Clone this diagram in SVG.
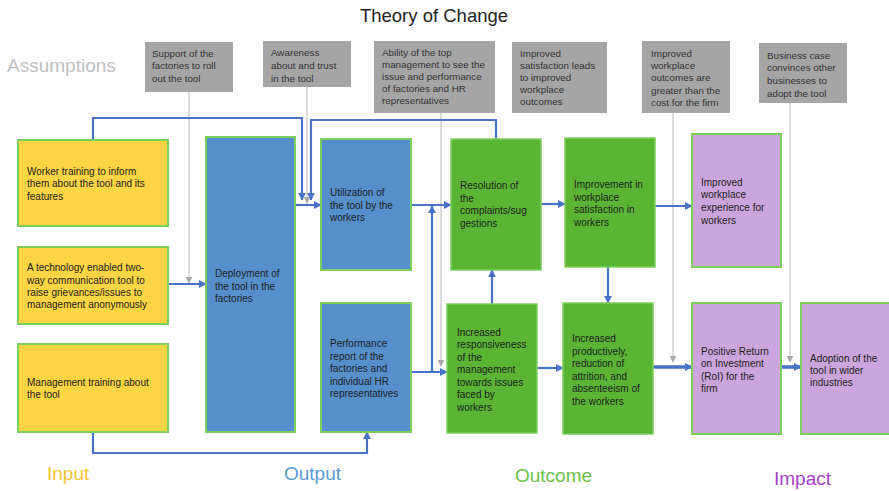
<svg xmlns="http://www.w3.org/2000/svg" width="889" height="491" viewBox="0 0 889 491">
<style>
text{font-family:"Liberation Sans",Arial,sans-serif}
.n text{font-size:10px;fill:#1e1e1e}
.a rect{fill:#a5a5a5}
.a text{font-size:9.8px;fill:#333}
.y{fill:#fcd444;stroke:#7dcf5c;stroke-width:2}
.b{fill:#5690cc;stroke:#7dcf5c;stroke-width:2}
.g{fill:#5ab535;stroke:#7dcf5c;stroke-width:1.5}
.p{fill:#caa6dd;stroke:#7dcf5c;stroke-width:2}
.c{fill:none;stroke:#4a72c8;stroke-width:2.2}
.ct{fill:none;stroke:#4a72c8;stroke-width:3.6}
.gl{fill:none;stroke:#cfcfcf;stroke-width:1.5}
.lab{font-size:19px}
</style>
<defs>
<marker id="ab" viewBox="0 0 10 10" refX="9" refY="5" markerWidth="8" markerHeight="8" markerUnits="userSpaceOnUse" orient="auto"><path d="M0,0 L10,5 L0,10 z" fill="#4a72c8"/></marker>
<marker id="ag" viewBox="0 0 10 10" refX="9" refY="5" markerWidth="7" markerHeight="7" markerUnits="userSpaceOnUse" orient="auto"><path d="M0,0 L10,5 L0,10 z" fill="#a8a8a8"/></marker>
</defs>
<rect width="889" height="491" fill="#fff"/>
<text x="434" y="22" text-anchor="middle" font-size="18.5" fill="#222">Theory of Change</text>
<text x="7" y="72" class="lab" fill="#c0c0c0">Assumptions</text>
<text x="47" y="480" class="lab" fill="#f7c431">Input</text>
<text x="284" y="480" class="lab" fill="#5b9bd5">Output</text>
<text x="515" y="482" class="lab" fill="#6cc04a">Outcome</text>
<text x="774" y="485" class="lab" fill="#a23fc6">Impact</text>

<g id="connectors">
<path class="gl" d="M189,92 V283" marker-end="url(#ag)"/>
<path class="gl" d="M307,87 V203" marker-end="url(#ag)"/>
<path class="gl" d="M441,113 V366" marker-end="url(#ag)"/>
<path class="gl" d="M673,113 V362" marker-end="url(#ag)"/>
<path class="gl" d="M790,103 V362" marker-end="url(#ag)"/>
<path class="c" d="M93,140 V118 H302 V200" marker-end="url(#ab)"/>
<path class="c" d="M496,139 V120 H311 V200" marker-end="url(#ab)"/>
<path class="c" d="M295,205 H321" marker-end="url(#ab)"/>
<path class="c" d="M168,284 H206" marker-end="url(#ab)"/>
<path class="c" d="M411,205 H451" marker-end="url(#ab)"/>
<path class="c" d="M432,372 V206" marker-end="url(#ab)"/>
<path class="c" d="M411,372 H447" marker-end="url(#ab)"/>
<path class="c" d="M492,304 V270" marker-end="url(#ab)"/>
<path class="c" d="M541,204 H565" marker-end="url(#ab)"/>
<path class="c" d="M608,267 V303" marker-end="url(#ab)"/>
<path class="c" d="M537,368 H563" marker-end="url(#ab)"/>
<path class="c" d="M655,206 H692" marker-end="url(#ab)"/>
<path class="ct" d="M653,367 H692" marker-end="url(#ab)"/>
<path class="ct" d="M781,367 H801" marker-end="url(#ab)"/>
<path class="c" d="M93,432 V453 H367 V432" marker-end="url(#ab)"/>
</g>

<g id="a1" class="a"><rect x="145" y="42" width="88" height="50"/>
<text x="152"><tspan x="152" y="57">Support of the</tspan><tspan x="152" y="69">factories to roll</tspan><tspan x="152" y="82">out the tool</tspan></text></g>
<g id="a2" class="a"><rect x="263" y="41" width="88" height="46"/>
<text><tspan x="271" y="56">Awareness</tspan><tspan x="271" y="69">about  and trust</tspan><tspan x="271" y="82">in the tool</tspan></text></g>
<g id="a3" class="a"><rect x="374" y="41" width="121" height="72"/>
<text><tspan x="382" y="56">Ability of the top</tspan><tspan x="382" y="68">management to see the</tspan><tspan x="382" y="80">issue and performance</tspan><tspan x="382" y="92">of factories and HR</tspan><tspan x="382" y="104">representatives</tspan></text></g>
<g id="a4" class="a"><rect x="512" y="42" width="95" height="71"/>
<text><tspan x="520" y="57">Improved</tspan><tspan x="520" y="69">satisfaction leads</tspan><tspan x="520" y="81">to improved</tspan><tspan x="520" y="93">workplace</tspan><tspan x="520" y="105">outcomes</tspan></text></g>
<g id="a5" class="a"><rect x="642" y="41" width="88" height="72"/>
<text><tspan x="651" y="57">Improved</tspan><tspan x="651" y="69">workplace</tspan><tspan x="651" y="81">outcomes are</tspan><tspan x="651" y="94">greater than the</tspan><tspan x="651" y="106">cost for the firm</tspan></text></g>
<g id="a6" class="a"><rect x="759" y="43" width="88" height="60"/>
<text><tspan x="767" y="59">Business case</tspan><tspan x="767" y="71">convinces other</tspan><tspan x="767" y="84">businesses to</tspan><tspan x="767" y="97">adopt the tool</tspan></text></g>

<g id="in1" class="n"><rect class="y" x="18" y="140" width="150" height="86"/>
<text><tspan x="27" y="175">Worker training to inform</tspan><tspan x="27" y="187">them about the tool and its</tspan><tspan x="27" y="200">features</tspan></text></g>
<g id="in2" class="n"><rect class="y" x="18" y="247" width="150" height="77"/>
<text><tspan x="27" y="271">A technology enabled two-</tspan><tspan x="27" y="284">way communication tool to</tspan><tspan x="27" y="296">raise grievances/issues to</tspan><tspan x="27" y="308">management anonymously</tspan></text></g>
<g id="in3" class="n"><rect class="y" x="18" y="344" width="150" height="88"/>
<text><tspan x="27" y="386">Management training about</tspan><tspan x="27" y="398">the tool</tspan></text></g>

<g id="out1" class="n"><rect class="b" x="206" y="137" width="89" height="295"/>
<text><tspan x="215" y="277">Deployment of</tspan><tspan x="215" y="290">the tool in the</tspan><tspan x="215" y="302">factories</tspan></text></g>
<g id="out2" class="n"><rect class="b" x="321" y="139" width="90" height="131"/>
<text><tspan x="330" y="196">Utilization of</tspan><tspan x="330" y="209">the tool by the</tspan><tspan x="330" y="221">workers</tspan></text></g>
<g id="out3" class="n"><rect class="b" x="321" y="303" width="90" height="129"/>
<text><tspan x="330" y="347">Performance</tspan><tspan x="330" y="360">report of the</tspan><tspan x="330" y="372">factories and</tspan><tspan x="330" y="385">individual HR</tspan><tspan x="330" y="397">representatives</tspan></text></g>

<g id="oc1" class="n"><rect class="g" x="451" y="139" width="90" height="131"/>
<text><tspan x="460" y="189">Resolution of</tspan><tspan x="460" y="202">the</tspan><tspan x="460" y="214">complaints/sug</tspan><tspan x="460" y="227">gestions</tspan></text></g>
<g id="oc2" class="n"><rect class="g" x="565" y="138" width="90" height="129"/>
<text><tspan x="574" y="188">Improvement in</tspan><tspan x="574" y="201">workplace</tspan><tspan x="574" y="213">satisfaction in</tspan><tspan x="574" y="226">workers</tspan></text></g>
<g id="oc3" class="n"><rect class="g" x="447" y="304" width="90" height="129"/>
<text><tspan x="457" y="336">Increased</tspan><tspan x="457" y="348">responsiveness</tspan><tspan x="457" y="361">of the</tspan><tspan x="457" y="373">management</tspan><tspan x="457" y="386">towards issues</tspan><tspan x="457" y="398">faced by</tspan><tspan x="457" y="411">workers</tspan></text></g>
<g id="oc4" class="n"><rect class="g" x="563" y="303" width="90" height="131"/>
<text><tspan x="572" y="342">Increased</tspan><tspan x="572" y="355">productively,</tspan><tspan x="572" y="367">reduction of</tspan><tspan x="572" y="380">attrition, and</tspan><tspan x="572" y="392">absenteeism of</tspan><tspan x="572" y="405">the workers</tspan></text></g>

<g id="im1" class="n"><rect class="p" x="692" y="134" width="89" height="133"/>
<text><tspan x="701" y="186">Improved</tspan><tspan x="701" y="198">workplace</tspan><tspan x="701" y="211">experience for</tspan><tspan x="701" y="224">workers</tspan></text></g>
<g id="im2" class="n"><rect class="p" x="692" y="303" width="89" height="131"/>
<text><tspan x="701" y="355">Positive Return</tspan><tspan x="701" y="367">on Investment</tspan><tspan x="701" y="380">(RoI) for the</tspan><tspan x="701" y="392">firm</tspan></text></g>
<g id="im3" class="n"><rect class="p" x="801" y="303" width="95" height="131"/>
<text><tspan x="810" y="362">Adoption of the</tspan><tspan x="810" y="374">tool in wider</tspan><tspan x="810" y="386">industries</tspan></text></g>
</svg>
